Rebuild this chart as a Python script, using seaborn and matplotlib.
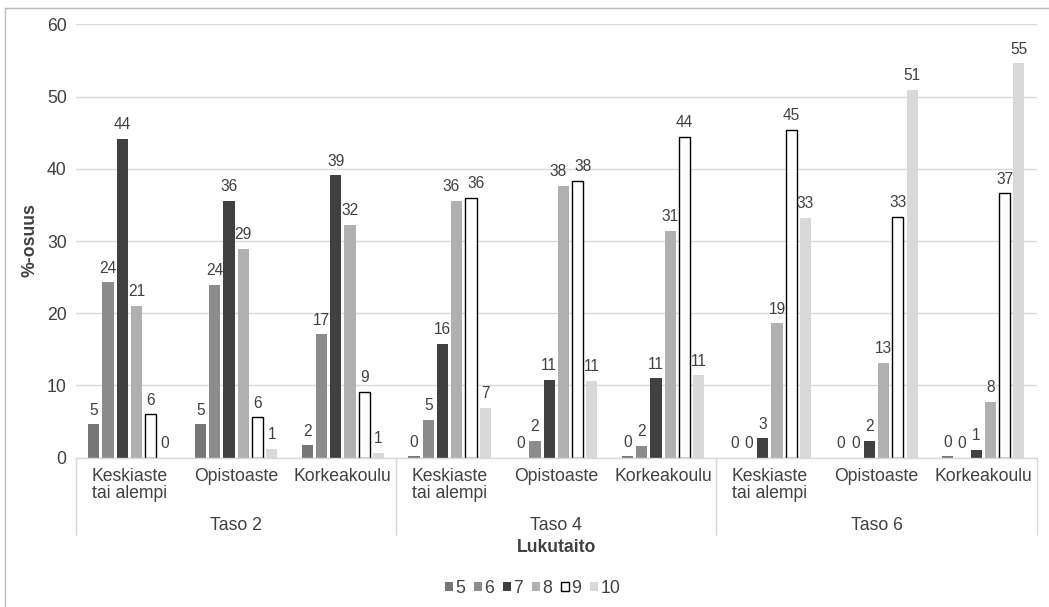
import matplotlib
matplotlib.use("Agg")
import matplotlib.pyplot as plt
import matplotlib.transforms as mtransforms
from matplotlib.lines import Line2D
from matplotlib.patches import Patch
import pandas as pd
import seaborn as sns

# Category structure: three literacy levels, each split by education
levels = ["Taso 2", "Taso 4", "Taso 6"]
education = ["Keskiaste\ntai alempi", "Opistoaste", "Korkeakoulu"]
grades = ["5", "6", "7", "8", "9", "10"]

# Share (%) of each grade, across the nine level/education groups
g5 = [4.6, 4.6, 1.7, 0.2, 0.0, 0.2, 0.0, 0.0, 0.2]
g6 = [24.3, 23.9, 17.1, 5.2, 2.3, 1.6, 0.0, 0.0, 0.0]
g7 = [44.1, 35.6, 39.1, 15.8, 10.8, 11.0, 2.7, 2.3, 1.05]
g8 = [21.0, 28.9, 32.2, 35.6, 37.6, 31.4, 18.6, 13.1, 7.7]
g9 = [6.0, 5.6, 9.1, 36.0, 38.3, 44.4, 45.4, 33.3, 36.6]
g10 = [0.0, 1.25, 0.7, 6.9, 10.6, 11.4, 33.2, 50.9, 54.6]

colors = ["#767676", "#8c8c8c", "#404040", "#b0b0b0", "#ffffff", "#d9d9d9"]
text_color = "#404040"
grid_color = "#d9d9d9"

series = dict(zip(grades, [g5, g6, g7, g8, g9, g10]))
group_keys = [f"{lv}|{ed}" for lv in levels for ed in education]
rows = []
for grade, values in series.items():
    for key, v in zip(group_keys, values):
        rows.append({"ryhma": key, "arvosana": grade, "osuus": v})
df = pd.DataFrame(rows)

sns.set_theme(style="white")
plt.rcParams["font.family"] = ["Liberation Sans", "DejaVu Sans"]

W, H = 1049, 607
fig = plt.figure(figsize=(W / 100, H / 100), dpi=100)
left, right, top, bottom = 76, 1036.7, 24.3, 457.7
ax = fig.add_axes([left / W, 1 - bottom / H, (right - left) / W, (bottom - top) / H])

sns.barplot(
    data=df, x="ryhma", y="osuus", hue="arvosana",
    order=group_keys, hue_order=grades, palette=colors,
    saturation=1, width=0.8, gap=0.22, errorbar=None,
    legend=False, ax=ax,
)

label_pad = 4.8
# labels nudged sideways where two neighbouring values sit at the same height
nudge = {("8", 3): -4.0, ("9", 3): 4.0, ("8", 4): -4.0, ("9", 4): 4.0}
for cont, grade in zip(ax.containers, grades):
    for bar in cont:
        if grade == "9":
            bar.set_edgecolor("black")
            bar.set_linewidth(1.0)
        else:
            bar.set_linewidth(0)
    texts = ax.bar_label(cont, fmt="%.0f", padding=label_pad, fontsize=11.2, color=text_color)
    for i, t in enumerate(texts):
        dx = nudge.get((grade, i), 0.0)
        if dx:
            t.xyann = (dx, label_pad)

ax.set_ylim(0, 60)
ax.set_yticks(range(0, 61, 10))
ax.yaxis.grid(True, color=grid_color, linewidth=1.0)
ax.set_axisbelow(True)
for side in ("left", "right", "top"):
    ax.spines[side].set_visible(False)
ax.spines["bottom"].set_color(grid_color)
ax.spines["bottom"].set_linewidth(1.0)
ax.spines["bottom"].set_zorder(5)

ax.set_xlabel("")
ax.set_ylabel("")
ax.set_xticks(range(len(group_keys)))
ax.set_xticklabels(education * len(levels), linespacing=1.0)
ax.tick_params(axis="x", length=0, pad=7.7, labelsize=12.7, labelcolor=text_color)
ax.tick_params(axis="y", length=0, pad=6.7, labelsize=12.7, labelcolor=text_color)

# Second level of the category axis: separators and level names
span = bottom - top
trans = mtransforms.blended_transform_factory(ax.transData, ax.transAxes)
ax.vlines([-0.5, 2.5, 5.5, 8.5], -(535 - bottom) / span, 0, transform=trans,
          colors=grid_color, linewidth=1.0, clip_on=False)
for i, lv in enumerate(levels):
    ax.text(3 * i + 1, -(525 - bottom) / span, lv, transform=trans,
            ha="center", va="center", fontsize=12.7, color=text_color)
ax.text(4, -(547 - bottom) / span, "Lukutaito", transform=trans,
        ha="center", va="center", fontsize=12.7, fontweight="bold", color=text_color)
ax.set_xlim(-0.5, len(group_keys) - 0.5)
ax.set_ylim(0, 60)

fig.text(30 / W, 1 - 240 / H, "%-osuus", rotation=90, ha="center", va="center",
         fontsize=12.7, fontweight="bold", color=text_color)

handles = [
    Patch(facecolor=c, edgecolor=("black" if g == "9" else c), linewidth=(1.0 if g == "9" else 0))
    for g, c in zip(grades, colors)
]
fig.legend(handles, grades, loc="center", bbox_to_anchor=(532.5 / W, 1 - 588.5 / H),
           ncol=6, frameon=False, handlelength=0.44, handleheight=0.44,
           handletextpad=0.15, columnspacing=0.5, fontsize=12.7, labelcolor=text_color)

# Chart area border
border = "#bcbcbc"
fig.add_artist(Line2D([5 / W, 5 / W], [0, 1 - 8 / H], transform=fig.transFigure,
                      color=border, linewidth=1.0))
fig.add_artist(Line2D([5 / W, 1], [1 - 8 / H, 1 - 8 / H], transform=fig.transFigure,
                      color=border, linewidth=1.0))

fig.savefig("out.png", dpi=100)
